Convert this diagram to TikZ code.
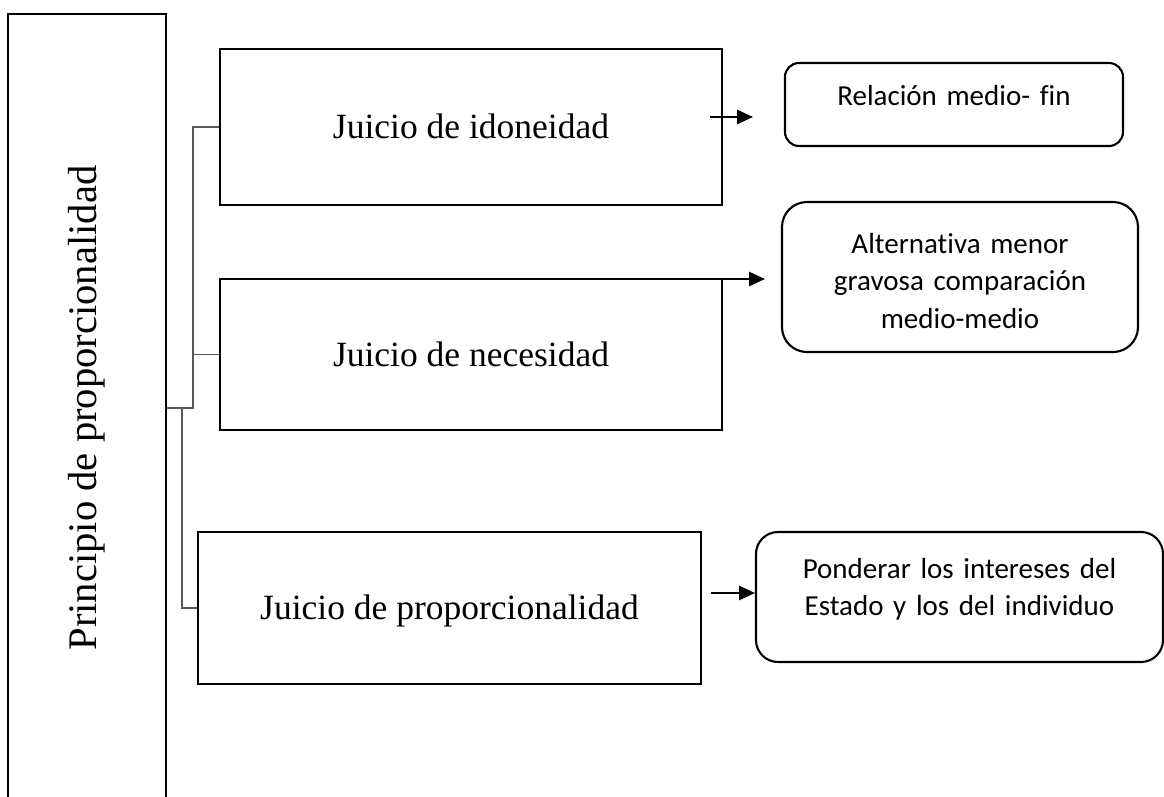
\documentclass[tikz,border=0pt]{standalone}
\usepackage{fontspec}
\setmainfont{Liberation Serif}
\newfontfamily\calibri[Ligatures=NoCommon]{Carlito}
\usepackage{graphicx}
\usetikzlibrary{arrows.meta}

\begin{document}
\begin{tikzpicture}[->,>={Triangle[length=9pt,width=8pt]},line width=1.2pt,
    juicio node/.style={rectangle,draw,inner sep=0pt,text height=16pt,text depth=2.4pt,font=\fontsize{20.2}{24}\selectfont},
    fin node/.style={rectangle,draw,rounded corners=#1,inner sep=0pt,align=center,font=\calibri\fontsize{16.5}{21.5}\selectfont},
    thin line/.style={-,line width=0.6pt,draw=black!65}]
  \useasboundingbox (0,0) rectangle (23.28,-15.92);
  % left column
  \node[draw,inner sep=0pt,minimum width=3.16cm,minimum height=15.76cm,font=\fontsize{23.1}{28}\selectfont] (principio) at (1.74,-8.16) {\rotatebox{90}{Principio de proporcionalidad}};
  % the three judgements
  \node[juicio node,minimum width=10.04cm,minimum height=3.12cm] (idoneidad) at (9.42,-2.54) {Juicio de idoneidad};
  \node[juicio node,minimum width=10.04cm,minimum height=3.02cm] (necesidad) at (9.42,-7.09) {Juicio de necesidad};
  \node[juicio node,minimum width=10.06cm,minimum height=3.04cm] (proporcionalidad) at (8.99,-12.16) {Juicio de proporcionalidad};
  % rounded boxes on the right
  \node[fin node=0.28cm,text width=6.76cm,text height=0.84cm,text depth=0.82cm] (fin) at (19.08,-2.09) {Relación medio- fin};
  \node[fin node=0.5cm,text width=7.12cm,text height=1.02cm,text depth=1.98cm] (medio) at (19.20,-5.54) {Alternativa menor\\ gravosa comparación\\ medio-medio};
  \node[fin node=0.44cm,text width=8.14cm,text height=0.92cm,text depth=1.68cm] (intereses) at (19.19,-11.94) {Ponderar los intereses del\\ Estado y los del individuo};
  % bracket
  \coordinate (fork) at (3.86,-8.16);
  \coordinate (lowfork) at (3.64,-8.16);
  \draw[thin line] (principio.east) -- (fork) |- (idoneidad.west);
  \draw[thin line] (fork) |- (necesidad.west);
  \draw[thin line] (lowfork) |- (proporcionalidad.west);
  % arrows
  \coordinate (s1) at (14.20,-2.34);
  \coordinate (e1) at (15.06,-2.34);
  \coordinate (s2) at (14.32,-5.58);
  \coordinate (e2) at (15.30,-5.58);
  \coordinate (s3) at (14.22,-11.86);
  \coordinate (e3) at (15.10,-11.86);
  \path[->] (s1) edge (e1);
  \path[->] (s2) edge (e2);
  \path[->] (s3) edge (e3);
\end{tikzpicture}
\end{document}
